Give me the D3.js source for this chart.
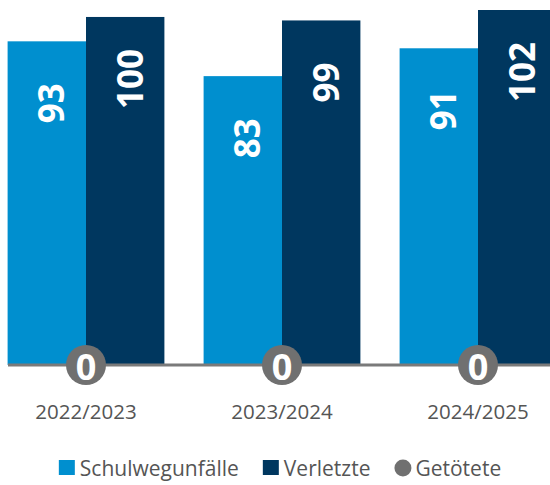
<!DOCTYPE html>
<html>
<head>
<meta charset="utf-8">
<script src="https://cdn.jsdelivr.net/npm/d3@7"></script>
<style>
  html, body { margin: 0; padding: 0; background: #fff; }
  svg { display: block; }
</style>
</head>
<body>
<svg id="chart" width="550" height="485"></svg>
<script>
// School years on the x axis
const years = ["2022/2023", "2023/2024", "2024/2025"];
// Series
const schulwegunfaelle = [93, 83, 91];
const verletzte = [100, 99, 102];
const getoetete = [0, 0, 0];
const seriesNames = ["Schulwegunfälle", "Verletzte", "Getötete"];

const colors = { unfaelle: "#008fcf", verletzte: "#00375f", tote: "#707070" };
const fontFamily = "'Source Sans Pro', 'Open Sans', 'Noto Sans', sans-serif";

const svg = d3.select("#chart");
const baseline = 365;

const x = d3.scaleBand().domain(years).range([7.6, 556.4]).paddingInner(0.2).paddingOuter(0);
const xs = d3.scaleBand().domain(["a", "b"]).range([0, x.bandwidth()]);
const y = d3.scaleLinear().domain([0, 102]).range([baseline, 10]);

const rows = years.map((yr, i) => ({ yr, vals: [schulwegunfaelle[i], verletzte[i]], dead: getoetete[i] }));
const sub = ["a", "b"];
const fill = [colors.unfaelle, colors.verletzte];

// Bars with their rotated value labels
const barLayer = svg.append("g");
const groups = barLayer.selectAll("g.year")
  .data(rows)
  .join("g")
  .attr("class", "year")
  .attr("transform", d => `translate(${x(d.yr)},0)`);

groups.selectAll("rect")
  .data(d => d.vals.map((v, j) => ({ v, j })))
  .join("rect")
  .attr("x", d => xs(sub[d.j]))
  .attr("width", xs.bandwidth())
  .attr("y", d => y(d.v))
  .attr("height", d => baseline - y(d.v))
  .attr("fill", d => fill[d.j]);

groups.selectAll("text.val")
  .data(d => d.vals.map((v, j) => ({ v, j })))
  .join("text")
  .attr("class", "val")
  .attr("transform", d => `translate(${xs(sub[d.j]) + xs.bandwidth() / 2 + 4},${y(d.v) + 62}) rotate(-90)`)
  .attr("text-anchor", "middle")
  .attr("dominant-baseline", "central")
  .attr("fill", "#fff")
  .style("font-family", fontFamily)
  .style("font-weight", 700)
  .style("font-size", "35px")
  .text(d => d.v);

// Axis baseline
svg.append("line")
  .attr("x1", 8).attr("x2", 550)
  .attr("y1", baseline).attr("y2", baseline)
  .attr("stroke", "#7a7a7a")
  .attr("stroke-width", 3);

// Fatalities badges on the baseline, plus category labels
const front = svg.append("g").selectAll("g")
  .data(rows)
  .join("g")
  .attr("transform", d => `translate(${x(d.yr) + x.bandwidth() / 2},0)`);

front.append("circle")
  .attr("cx", 0)
  .attr("cy", y(0))
  .attr("r", 20)
  .attr("fill", colors.tote);

front.append("text")
  .attr("x", 0)
  .attr("y", y(0) + 1)
  .attr("text-anchor", "middle")
  .attr("dominant-baseline", "central")
  .attr("fill", "#fff")
  .style("font-family", fontFamily)
  .style("font-weight", 700)
  .style("font-size", "36px")
  .text(d => d.dead);

front.append("text")
  .attr("x", 0)
  .attr("y", 419)
  .attr("text-anchor", "middle")
  .attr("fill", "#555")
  .style("font-family", fontFamily)
  .style("font-size", "20.5px")
  .text(d => d.yr);

// Legend
const legend = svg.append("g");
const items = legend.selectAll("g")
  .data(seriesNames.map((n, i) => ({ n, i })))
  .join("g");

items.each(function (d) {
  const g = d3.select(this);
  if (d.i < 2) {
    g.append("rect").attr("x", 0).attr("y", -8).attr("width", 16).attr("height", 15)
      .attr("fill", d.i === 0 ? colors.unfaelle : colors.verletzte);
  } else {
    g.append("circle").attr("cx", 8.5).attr("cy", 0).attr("r", 8.5).attr("fill", colors.tote);
  }
  g.append("text")
    .attr("x", 21)
    .attr("y", 0)
    .attr("dominant-baseline", "central")
    .attr("fill", "#555")
    .style("font-family", fontFamily)
    .style("font-size", "21px")
    .text(d.n);
});

const gap = 24;
const widths = [];
items.each(function () { widths.push(this.getBBox().width); });
const total = d3.sum(widths) + gap * (widths.length - 1);
let cursor = 280 - total / 2;
items.attr("transform", (d, i) => {
  const t = `translate(${cursor},468)`;
  cursor += widths[i] + gap;
  return t;
});
</script>
</body>
</html>
